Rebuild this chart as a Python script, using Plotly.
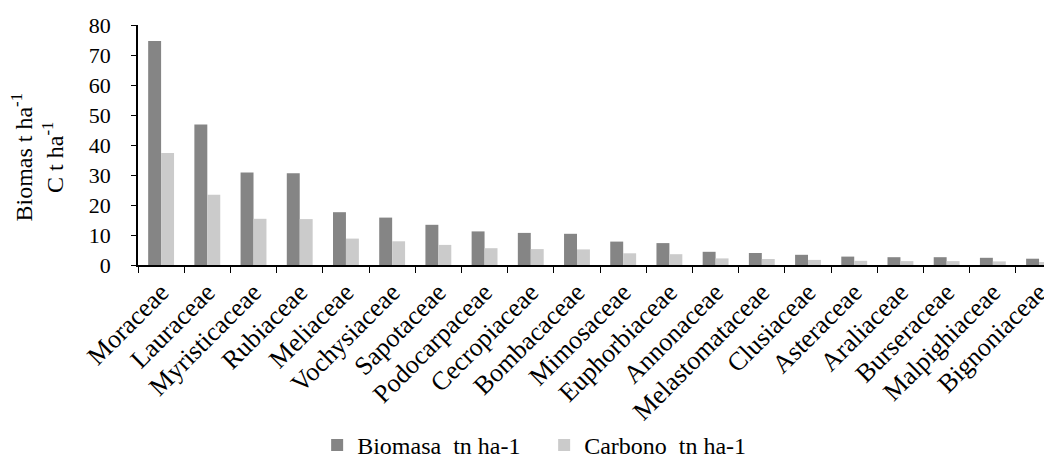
import plotly.graph_objects as go

families = ["Moraceae", "Lauraceae", "Myristicaceae", "Rubiaceae", "Meliaceae",
            "Vochysiaceae", "Sapotaceae", "Podocarpaceae", "Cecropiaceae", "Bombacaceae",
            "Mimosaceae", "Euphorbiaceae", "Annonaceae", "Melastomataceae", "Clusiaceae",
            "Asteraceae", "Araliaceae", "Burseraceae", "Malpighiaceae", "Bignoniaceae"]
biomasa = [74.7, 46.8, 30.8, 30.6, 17.6, 15.8, 13.4, 11.2, 10.7, 10.4,
           7.8, 7.3, 4.4, 4.0, 3.4, 2.8, 2.6, 2.6, 2.4, 2.1]
carbono = [37.3, 23.4, 15.4, 15.3, 8.8, 7.9, 6.7, 5.6, 5.3, 5.2,
           3.9, 3.6, 2.2, 2.0, 1.7, 1.4, 1.3, 1.3, 1.2, 1.0]
yticks = [0, 10, 20, 30, 40, 50, 60, 70, 80]
series_names = ["Biomasa\u00a0 tn ha-1", "Carbono\u00a0 tn ha-1"]
ytitle = "Biomas t ha<sup>-1</sup><br>C t ha<sup>-1</sup>"

FONT = "Liberation Serif, Times New Roman, serif"

fig = go.Figure()
fig.add_trace(go.Bar(x=families, y=biomasa, name=series_names[0],
                     marker=dict(color="#858585", line=dict(width=0))))
fig.add_trace(go.Bar(x=families, y=carbono, name=series_names[1],
                     marker=dict(color="#cbcbcb", line=dict(width=0))))

fig.add_annotation(text=ytitle, xref="paper", yref="paper", x=-0.111, y=0.45,
                   xanchor="center", yanchor="middle", textangle=-90, showarrow=False,
                   font=dict(size=24, family=FONT, color="black"))

fig.update_layout(
    width=1044, height=450,
    margin=dict(l=130, r=0, t=17, b=193, autoexpand=False),
    paper_bgcolor="white", plot_bgcolor="white",
    barmode="group", bargap=0.44, bargroupgap=0,
    font=dict(family=FONT, color="black", size=22),
    showlegend=True,
    legend=dict(orientation="h", x=0.196, xanchor="left", y=-0.752, yanchor="middle",
                font=dict(size=24, family=FONT, color="black"), itemwidth=30,
                entrywidth=182, traceorder="normal"),
    xaxis=dict(range=[-0.5, 19.28], showline=True, linecolor="black", linewidth=1.5,
               ticks="outside", tickson="boundaries", ticklen=6, tickcolor="black",
               tickangle=-45, tickfont=dict(size=26, family=FONT, color="black"),
               showgrid=False, automargin=False),
    yaxis=dict(range=[0, 80], tickvals=yticks, showline=True, linecolor="black",
               linewidth=1.5, ticks="outside", ticklen=5, tickcolor="black",
               ticklabelstandoff=16,
               tickfont=dict(size=22, family=FONT, color="black"), showgrid=False,
               zeroline=False, automargin=False),
)

fig.write_html("out.html")
